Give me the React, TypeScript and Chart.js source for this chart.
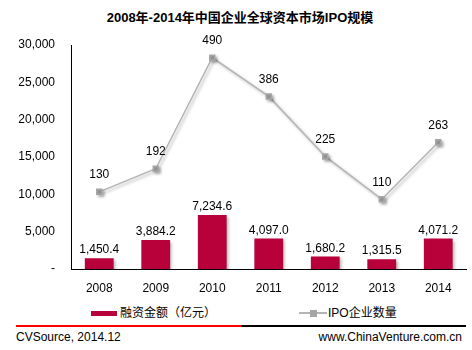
import React, { useEffect, useRef } from "react";
import { Chart, registerables } from "chart.js";

Chart.register(...registerables);

const years = ["2008", "2009", "2010", "2011", "2012", "2013", "2014"];
const financing = [1450.4, 3884.2, 7234.6, 4097.0, 1680.2, 1315.5, 4071.2];
const ipoCount = [130, 192, 490, 386, 225, 110, 263];
const yTicks = [0, 5000, 10000, 15000, 20000, 25000, 30000];

const BAR_COLOR = "#B8003A";
const LINE_COLOR = "#B4B4B4";
const POINT_COLOR = "#A6A6A6";
const FONT = "Arial, 'Liberation Sans', 'Noto Sans CJK SC', sans-serif";

const shadowPlugin = {
  id: "shadowPlugin",
  beforeDatasetDraw(chart: any) {
    const ctx = chart.ctx;
    ctx.save();
    ctx.shadowColor = "rgba(0,0,0,0.28)";
    ctx.shadowBlur = 3;
    ctx.shadowOffsetX = 2;
    ctx.shadowOffsetY = 2;
  },
  afterDatasetDraw(chart: any) {
    chart.ctx.restore();
  },
};

const labelPlugin = {
  id: "labelPlugin",
  afterDatasetsDraw(chart: any) {
    const ctx = chart.ctx;
    ctx.save();
    ctx.font = "12px " + FONT;
    ctx.fillStyle = "#000";
    ctx.textAlign = "center";
    ctx.textBaseline = "middle";
    chart.data.datasets.forEach((ds: any, i: number) => {
      const meta = chart.getDatasetMeta(i);
      meta.data.forEach((el: any, j: number) => {
        const v = ds.data[j];
        if (ds.type === "bar") {
          const txt = v.toLocaleString("en-US", { minimumFractionDigits: 1, maximumFractionDigits: 1 });
          ctx.fillText(txt, el.x, el.y - 8);
        } else {
          ctx.fillText(String(v), el.x, el.y - 17);
        }
      });
    });
    ctx.restore();
  },
};

export default function App() {
  const ref = useRef<HTMLCanvasElement>(null);

  useEffect(() => {
    if (!ref.current) return;
    const chart = new Chart(ref.current, {
      type: "bar",
      data: {
        labels: years,
        datasets: [
          {
            type: "line",
            label: "IPO企业数量",
            data: ipoCount,
            yAxisID: "y1",
            borderColor: LINE_COLOR,
            borderWidth: 1.5,
            pointStyle: "rect",
            pointRadius: 3.5,
            pointBackgroundColor: POINT_COLOR,
            pointBorderColor: POINT_COLOR,
            tension: 0,
            order: 0,
          } as any,
          {
            type: "bar",
            label: "融资金额（亿元）",
            data: financing,
            yAxisID: "y",
            backgroundColor: BAR_COLOR,
            categoryPercentage: 1,
            barPercentage: 0.51,
            order: 1,
          } as any,
        ],
      },
      options: {
        animation: false,
        responsive: false,
        devicePixelRatio: 1,
        layout: { padding: { left: 0, right: 1, top: 45, bottom: 0 } },
        plugins: { legend: { display: false }, tooltip: { enabled: false }, title: { display: false } },
        scales: {
          x: {
            grid: { display: false, drawTicks: false },
            border: { display: true, color: "#000", width: 1 },
            ticks: { color: "#000", font: { size: 12, family: FONT }, padding: 12, maxRotation: 0 },
            afterFit(scale: any) {
              scale.height = 31;
            },
          },
          y: {
            min: 0,
            max: 30000,
            afterBuildTicks(scale: any) {
              scale.ticks = yTicks.map((v) => ({ value: v }));
            },
            grid: { display: false, drawTicks: false },
            border: { display: true, color: "#000", width: 1 },
            ticks: {
              color: "#000",
              font: { size: 12, family: FONT },
              padding: 16,
              callback: (v: any) => (Number(v) === 0 ? "-" : Number(v).toLocaleString("en-US")),
            },
            afterFit(scale: any) {
              scale.width = 71;
            },
          },
          y1: {
            display: false,
            min: -77,
            max: 524,
          },
        },
      } as any,
      plugins: [shadowPlugin, labelPlugin],
    });
    return () => chart.destroy();
  }, []);

  const text: React.CSSProperties = { position: "absolute", fontFamily: FONT, fontSize: 12, color: "#000", whiteSpace: "nowrap", lineHeight: "14px" };

  return (
    <div style={{ position: "absolute", left: 0, top: 0, width: 472, height: 350, background: "#fff", overflow: "hidden" }}>
      <div style={{ ...text, left: 0, width: 480, top: 10, textAlign: "center", fontWeight: "bold", fontSize: 13, lineHeight: "16px" }}>
        2008年-2014年中国企业全球资本市场IPO规模
      </div>
      <canvas ref={ref} width={472} height={300} style={{ position: "absolute", left: 0, top: 0 }} />
      {/* legend */}
      <div style={{ position: "absolute", left: 91, top: 311, width: 26, height: 5, background: BAR_COLOR }} />
      <div style={{ ...text, left: 120, top: 306 }}>融资金额（亿元）</div>
      <div style={{ position: "absolute", left: 299, top: 312, width: 28, height: 1.5, background: LINE_COLOR }} />
      <div style={{ position: "absolute", left: 310, top: 310, width: 7, height: 7, background: POINT_COLOR }} />
      <div style={{ ...text, left: 328, top: 306 }}>IPO企业数量</div>
      {/* footer */}
      <div style={{ position: "absolute", left: 16, top: 325, width: 225, height: 2, background: "#FF0000" }} />
      <div style={{ position: "absolute", left: 241, top: 325, width: 225, height: 2, background: "#000" }} />
      <div style={{ ...text, left: 16, top: 330 }}>CVSource, 2014.12</div>
      <div style={{ ...text, right: 10, top: 330 }}>www.ChinaVenture.com.cn</div>
    </div>
  );
}
